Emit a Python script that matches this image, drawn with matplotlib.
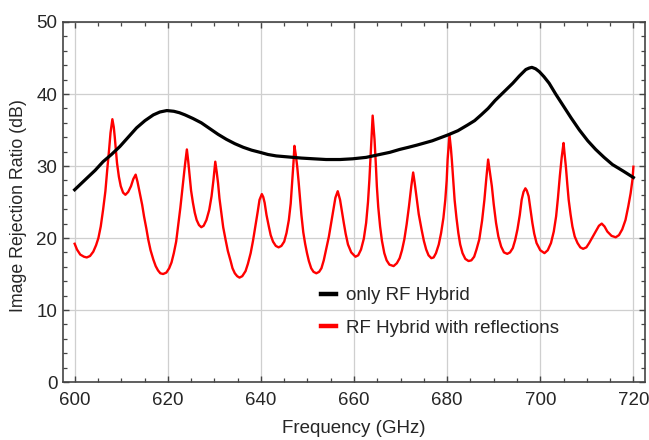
import matplotlib
matplotlib.use("Agg")
import matplotlib.pyplot as plt
from matplotlib.lines import Line2D
from matplotlib.ticker import MultipleLocator

# only RF Hybrid (black): (frequency GHz, image rejection dB)
hybrid_points = [
    (600.0, 26.7), (601.3, 27.5), (602.6, 28.3), (604.4, 29.4), (606.1, 30.6),
    (607.9, 31.6), (609.7, 32.7), (611.5, 34.0), (613.3, 35.3), (615.1, 36.3),
    (616.9, 37.1), (618.3, 37.5), (619.8, 37.7), (621.3, 37.6), (622.5, 37.4),
    (623.7, 37.1), (625.4, 36.6), (627.2, 36.0), (629.0, 35.2), (630.8, 34.4),
    (632.6, 33.7), (634.4, 33.1), (636.2, 32.6), (638.0, 32.2), (639.8, 31.9),
    (641.5, 31.6), (643.3, 31.4), (645.1, 31.3), (648.7, 31.1), (651.3, 31.0),
    (654.0, 30.9), (657.0, 30.9), (659.7, 31.0), (662.6, 31.2), (665.5, 31.6),
    (667.7, 31.9), (669.8, 32.3), (671.7, 32.6), (673.5, 32.9), (676.8, 33.5),
    (680.1, 34.3), (682.3, 34.9), (684.4, 35.7), (685.9, 36.3), (687.3, 37.1),
    (688.8, 38.0), (690.3, 39.1), (692.2, 40.3), (694.1, 41.5), (695.5, 42.5),
    (696.9, 43.4), (697.6, 43.6), (698.2, 43.7), (699.0, 43.5), (699.8, 43.1),
    (700.8, 42.4), (701.9, 41.5), (703.3, 40.0), (704.8, 38.5), (706.6, 36.7),
    (708.4, 35.0), (710.2, 33.5), (711.9, 32.3), (713.7, 31.2), (715.5, 30.2),
    (717.8, 29.3), (720.0, 28.4),
]

# RF Hybrid with reflections (red)
refl_points = [
    (600.0, 19.2), (600.5, 18.4), (601.2, 17.7), (602.0, 17.4), (602.6, 17.3),
    (603.3, 17.5), (604.0, 18.1), (604.6, 19.0), (605.1, 20.0), (605.6, 21.6),
    (606.1, 23.9), (606.6, 26.5), (607.0, 29.5), (607.4, 32.3), (607.7, 34.6),
    (608.1, 36.5), (608.4, 35.4), (608.6, 34.1), (608.9, 31.8), (609.1, 30.4),
    (609.5, 28.5), (609.9, 27.2), (610.4, 26.3), (610.9, 26.0), (611.5, 26.4),
    (612.1, 27.2), (612.6, 28.2), (613.1, 28.8), (613.5, 27.8), (614.0, 26.2),
    (614.5, 24.6), (614.9, 23.0), (615.4, 21.3), (615.8, 19.8), (616.3, 18.3),
    (616.9, 17.0), (617.4, 16.1), (617.9, 15.5), (618.4, 15.1), (619.0, 15.0),
    (619.7, 15.2), (620.3, 15.8), (620.8, 16.6), (621.3, 17.9), (621.8, 19.5),
    (622.2, 21.6), (622.7, 24.2), (623.2, 27.2), (623.7, 30.2), (624.1, 32.3),
    (624.4, 30.6), (624.7, 28.6), (625.0, 26.6), (625.4, 24.9), (625.8, 23.5),
    (626.2, 22.5), (626.7, 21.8), (627.2, 21.5), (627.7, 21.7), (628.3, 22.5),
    (628.9, 23.9), (629.4, 25.8), (629.8, 28.0), (630.2, 30.6), (630.5, 29.2),
    (630.8, 27.6), (631.1, 25.5), (631.5, 23.5), (631.9, 21.5), (632.4, 19.8),
    (632.9, 18.2), (633.5, 16.8), (633.9, 15.8), (634.4, 15.1), (634.9, 14.7),
    (635.4, 14.5), (636.0, 14.7), (636.7, 15.4), (637.2, 16.4), (637.8, 17.9),
    (638.3, 19.6), (638.8, 21.6), (639.3, 23.6), (639.7, 25.3), (640.2, 26.1),
    (640.5, 25.7), (640.8, 24.9), (641.2, 23.2), (641.7, 21.6), (642.1, 20.4),
    (642.6, 19.5), (643.2, 18.9), (643.8, 18.7), (644.4, 18.9), (645.0, 19.5),
    (645.5, 20.7), (646.0, 22.5), (646.4, 24.8), (646.7, 27.6), (647.0, 30.5),
    (647.2, 32.8), (647.5, 31.5), (647.8, 29.9), (648.1, 27.8), (648.4, 25.5),
    (648.7, 23.2), (649.1, 20.8), (649.5, 19.2), (649.9, 17.9), (650.3, 16.8),
    (650.8, 15.8), (651.3, 15.3), (651.9, 15.1), (652.5, 15.3), (653.0, 15.8),
    (653.5, 16.9), (654.0, 18.4), (654.6, 20.2), (655.1, 22.1), (655.6, 24.0),
    (656.0, 25.6), (656.5, 26.5), (657.0, 25.3), (657.4, 23.7), (657.8, 22.1),
    (658.2, 20.6), (658.7, 19.1), (659.4, 18.0), (660.3, 17.4), (660.9, 17.6),
    (661.5, 18.4), (662.1, 19.9), (662.6, 22.1), (663.0, 25.0), (663.3, 28.1),
    (663.7, 33.2), (664.0, 37.0), (664.4, 33.7), (664.7, 30.0), (664.9, 27.2),
    (665.2, 24.3), (665.6, 21.6), (666.0, 19.6), (666.5, 17.9), (667.0, 16.9),
    (667.6, 16.3), (668.5, 16.1), (669.2, 16.5), (669.8, 17.2), (670.3, 18.3),
    (670.8, 19.8), (671.3, 21.9), (671.8, 24.4), (672.3, 27.2), (672.7, 29.1),
    (673.0, 27.8), (673.4, 25.8), (673.9, 23.3), (674.5, 21.2), (675.0, 19.6),
    (675.5, 18.4), (676.0, 17.6), (676.6, 17.2), (677.1, 17.3), (677.6, 17.9),
    (678.2, 19.1), (678.7, 20.7), (679.2, 22.8), (679.6, 25.3), (679.9, 28.0),
    (680.1, 30.9), (680.5, 34.3), (680.8, 32.5), (681.0, 30.9), (681.3, 28.0),
    (681.6, 25.3), (682.0, 22.8), (682.4, 20.7), (682.8, 19.1), (683.3, 17.9),
    (683.9, 17.1), (684.6, 16.8), (685.2, 16.9), (685.8, 17.4), (686.3, 18.4),
    (686.9, 19.8), (687.5, 22.4), (688.0, 25.3), (688.4, 28.2), (688.8, 30.9),
    (689.2, 29.0), (689.6, 27.2), (690.0, 24.7), (690.5, 22.1), (691.0, 20.2),
    (691.6, 18.8), (692.2, 18.0), (692.9, 17.8), (693.5, 18.0), (694.1, 18.6),
    (694.6, 19.7), (695.1, 21.2), (695.6, 23.2), (696.0, 25.3), (696.4, 26.4),
    (696.8, 26.9), (697.1, 26.6), (697.5, 25.8), (697.9, 24.0), (698.3, 22.1),
    (698.7, 20.6), (699.2, 19.3), (700.0, 18.3), (700.9, 17.9), (701.6, 18.3),
    (702.3, 19.3), (702.9, 20.9), (703.4, 23.0), (703.8, 25.6), (704.2, 28.6),
    (704.6, 31.2), (705.0, 33.2), (705.2, 31.8), (705.5, 29.9), (705.8, 27.5),
    (706.1, 25.3), (706.5, 23.3), (706.9, 21.6), (707.4, 20.2), (708.0, 19.3),
    (708.6, 18.7), (709.2, 18.5), (709.9, 18.7), (710.5, 19.3), (711.2, 20.1),
    (711.9, 20.9), (712.6, 21.7), (713.2, 22.0), (713.8, 21.6), (714.4, 20.9),
    (715.3, 20.3), (716.2, 20.1), (716.9, 20.4), (717.6, 21.2), (718.3, 22.5),
    (718.9, 24.4), (719.4, 26.2), (719.8, 28.1), (720.0, 29.9),
]

labels = ["only RF Hybrid", "RF Hybrid with reflections"]

hybrid_freq = [p[0] for p in hybrid_points]
hybrid_irr = [p[1] for p in hybrid_points]
refl_freq = [p[0] for p in refl_points]
refl_irr = [p[1] for p in refl_points]

plt.rcParams["font.family"] = ["Liberation Sans", "DejaVu Sans"]
text_color = "#262626"

fig = plt.figure(figsize=(6.49, 4.40), dpi=100)
ax = fig.add_axes([0.0971, 0.1318, 0.8968, 0.8182])

ax.plot(refl_freq, refl_irr, color="#ff0000", linewidth=1.7, solid_joinstyle="round", zorder=3)
ax.plot(hybrid_freq, hybrid_irr, color="black", linewidth=2.3, solid_joinstyle="round", zorder=4)

ax.set_xlim(597.5, 722.5)
ax.set_ylim(0, 50)
ax.xaxis.set_major_locator(MultipleLocator(20))
ax.xaxis.set_minor_locator(MultipleLocator(5))
ax.yaxis.set_major_locator(MultipleLocator(10))
ax.yaxis.set_minor_locator(MultipleLocator(2))
ax.grid(True, which="major", color="#cfcfcf", linewidth=0.9, zorder=0)

ax.tick_params(which="both", direction="in", top=True, right=True, colors="#444444",
               labelcolor=text_color, labelsize=13.5)
ax.tick_params(which="major", length=4.5, width=1.0)
ax.tick_params(which="minor", length=2.6, width=0.9)
ax.tick_params(axis="x", pad=7)
ax.tick_params(axis="y", pad=4)
for spine in ax.spines.values():
    spine.set_color("#444444")
    spine.set_linewidth(1.2)

ax.set_xlabel("Frequency (GHz)", fontsize=13.5, color=text_color, labelpad=8)
ax.set_ylabel("Image Rejection Ratio (dB)", fontsize=12.8, color=text_color)
ax.yaxis.set_label_coords(-0.062, 0.49)

handles = [Line2D([], [], color="black", linewidth=3.2),
           Line2D([], [], color="#ff0000", linewidth=3.2)]
ax.legend(handles, labels, loc="upper left", bbox_to_anchor=(0.444, 0.264),
          frameon=False, fontsize=13.5, handlelength=0.8, handletextpad=0.5,
          labelspacing=0.82, borderpad=0, borderaxespad=0, labelcolor=text_color)

fig.savefig("out.png", dpi=100)
